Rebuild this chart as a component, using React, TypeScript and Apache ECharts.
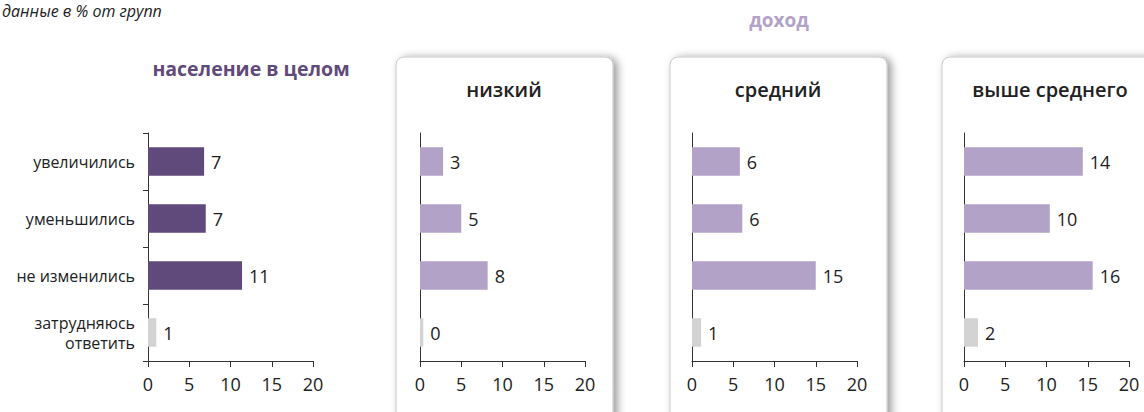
import React, { useEffect, useRef } from "react";
import * as echarts from "echarts";

const categories = ["увеличились", "уменьшились", "не изменились", "затрудняюсь\nответить"];
const panelTitles = ["население в целом", "низкий", "средний", "выше среднего"];
const totalValues = [6.8, 7.0, 11.4, 1.0];
const lowValues = [2.8, 5.0, 8.2, 0.4];
const midValues = [5.8, 6.1, 15.0, 1.1];
const highValues = [14.4, 10.4, 15.6, 1.7];
const xTicks = [0, 5, 10, 15, 20];
const groupLabel = "доход";
const noteText = "данные в % от групп";

const DARK = "#604a7b";
const LIGHT = "#b3a2c8";
const GRAY = "#d3d3d3";
const FONT = "'Open Sans', 'Noto Sans', sans-serif";

export default function App() {
  const ref = useRef<HTMLDivElement>(null);
  useEffect(() => {
    if (!ref.current) return;
    const chart = echarts.init(ref.current, null, { renderer: "svg" });
    const allData = [totalValues, lowValues, midValues, highValues];
    const lefts = [148, 420, 692, 964];
    const grids = lefts.map((l) => ({ left: l, width: 165, top: 133, height: 228 }));
    const xAxes = lefts.map((_, i) => ({
      type: "value",
      gridIndex: i,
      min: xTicks[0],
      max: xTicks[xTicks.length - 1],
      interval: xTicks[1] - xTicks[0],
      axisLine: { show: true, lineStyle: { color: "#333", width: 1 } },
      axisTick: { show: true, length: 6, lineStyle: { color: "#333" } },
      splitLine: { show: false },
      axisLabel: { fontSize: 18, color: "#222", margin: 14, fontFamily: FONT },
    }));
    const yAxes = lefts.map((_, i) => ({
      type: "category",
      gridIndex: i,
      inverse: true,
      data: categories,
      axisLine: { show: true, lineStyle: { color: "#333", width: 1 } },
      axisTick: { show: i === 0, length: 5, lineStyle: { color: "#333" } },
      axisLabel: {
        show: i === 0,
        fontSize: 16,
        color: "#222",
        margin: 13,
        lineHeight: 20,
        fontFamily: FONT,
        align: "right",
      },
    }));
    const series = allData.map((vals, i) => ({
      type: "bar",
      xAxisIndex: i,
      yAxisIndex: i,
      barCategoryGap: "50%",
      data: vals.map((v, j) => ({
        value: v,
        itemStyle: { color: j === 3 ? GRAY : i === 0 ? DARK : LIGHT },
      })),
      label: {
        show: true,
        position: "right",
        distance: 7,
        fontSize: 18,
        color: "#222",
        fontFamily: FONT,
        formatter: (p: any) => String(Math.round(p.value)),
      },
    }));
    const boxLefts = [396, 670, 942];
    const boxes = boxLefts.map((x) => ({
      type: "rect",
      z: 0,
      shape: { x, y: 57, width: 217, height: 380, r: 8 },
      style: {
        fill: "#fff",
        stroke: "#c8c8c8",
        lineWidth: 1,
        shadowBlur: 8,
        shadowOffsetX: 4,
        shadowOffsetY: 1,
        shadowColor: "rgba(0,0,0,0.4)",
      },
    }));
    const titleCenters = [251, 504, 778, 1050];
    const titles = titleCenters.map((cx, i) => ({
      type: "text",
      z: 10,
      x: cx,
      y: i === 0 ? 68 : 89,
      style: {
        text: panelTitles[i],
        align: "center",
        verticalAlign: "middle",
        fontSize: i === 0 ? 19.5 : 20,
        fontWeight: i === 0 ? "bold" : 600,
        fill: i === 0 ? DARK : "#222",
        fontFamily: FONT,
      },
    }));
    chart.setOption({
      animation: false,
      grid: grids,
      xAxis: xAxes,
      yAxis: yAxes,
      series,
      graphic: [
        ...boxes,
        ...titles,
        {
          type: "text",
          x: 779,
          y: 20,
          style: {
            text: groupLabel,
            align: "center",
            verticalAlign: "middle",
            fontSize: 19,
            fontWeight: "bold",
            fill: LIGHT,
            fontFamily: FONT,
          },
        },
        {
          type: "text",
          x: 2,
          y: 3,
          style: {
            text: noteText,
            align: "left",
            verticalAlign: "top",
            fontSize: 16,
            fontStyle: "italic",
            fill: "#222",
            fontFamily: FONT,
          },
        },
      ],
    });
    return () => chart.dispose();
  }, []);
  return (
    <div
      ref={ref}
      style={{ position: "fixed", left: 0, top: 0, width: 1144, height: 412, background: "#fff" }}
    />
  );
}
